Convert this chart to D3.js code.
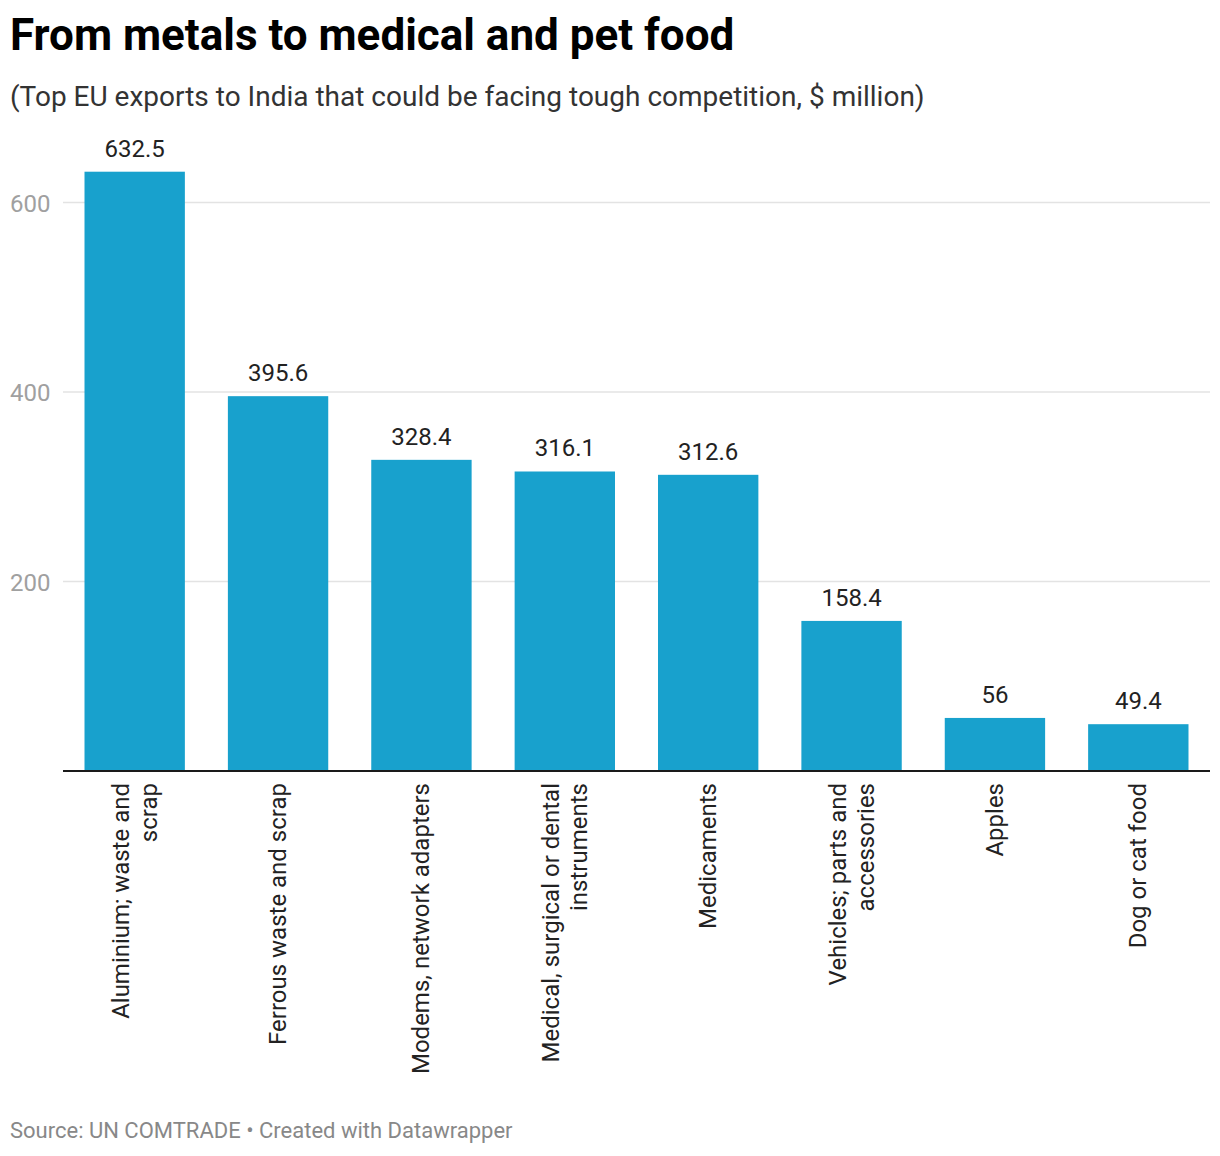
<!DOCTYPE html>
<html>
<head>
<meta charset="utf-8">
<script src="https://cdn.jsdelivr.net/npm/d3@7"></script>
<style>
  body { margin: 0; background: #fff; font-family: Roboto, sans-serif; }
  svg { display: block; }
</style>
</head>
<body>
<div id="chart"></div>
<script>
// labels, "\n" marks where the wrapped lines break
const categories = [
  'Aluminium; waste and\nscrap',
  'Ferrous waste and scrap',
  'Modems, network adapters',
  'Medical, surgical or dental\ninstruments',
  'Medicaments',
  'Vehicles; parts and\naccessories',
  'Apples',
  'Dog or cat food'
]
const values = [632.5, 395.6, 328.4, 316.1, 312.6, 158.4, 56, 49.4]
const yTicks = [200, 400, 600]

const title = 'From metals to medical and pet food'
const subtitle = '(Top EU exports to India that could be facing tough competition, $ million)'
const source = 'Source: UN COMTRADE • Created with Datawrapper'

const width = 1220
const height = 1156
const margin = { left: 63, right: 10, top: 0 }
const baseY = 771

const svg = d3.select('#chart').append('svg')
  .attr('width', width)
  .attr('height', height)

svg.append('text')
  .attr('x', 10).attr('y', 50)
  .attr('font-size', 44).attr('font-weight', 700)
  .attr('fill', '#000')
  .text(title)

svg.append('text')
  .attr('x', 10).attr('y', 106)
  .attr('font-size', 28)
  .attr('fill', '#333')
  .text(subtitle)

const x = d3.scaleBand()
  .domain(categories)
  .range([margin.left, width - margin.right])
  .paddingInner(0.3)
  .paddingOuter(0.15)

const y = d3.scaleLinear()
  .domain([0, 200])
  .range([baseY, baseY - 189.5])

// gridlines + y labels
const grid = svg.append('g')
grid.selectAll('line')
  .data(yTicks)
  .enter().append('line')
  .attr('x1', margin.left)
  .attr('x2', width - margin.right)
  .attr('y1', d => y(d))
  .attr('y2', d => y(d))
  .attr('stroke', '#e3e3e3')
  .attr('stroke-width', 1.5)

grid.selectAll('text')
  .data(yTicks)
  .enter().append('text')
  .attr('x', 10)
  .attr('y', d => y(d) + 9)
  .attr('font-size', 24)
  .attr('fill', '#a0a0a0')
  .text(d => d)

// bars
svg.selectAll('.bar')
  .data(values)
  .enter().append('rect')
  .attr('class', 'bar')
  .attr('x', (d, i) => x(categories[i]))
  .attr('width', x.bandwidth())
  .attr('y', d => y(d))
  .attr('height', d => baseY - y(d))
  .attr('fill', '#18a1cd')

// value labels
svg.selectAll('.val')
  .data(values)
  .enter().append('text')
  .attr('class', 'val')
  .attr('x', (d, i) => x(categories[i]) + x.bandwidth() / 2)
  .attr('y', d => y(d) - 15)
  .attr('text-anchor', 'middle')
  .attr('font-size', 24)
  .attr('fill', '#222')
  .text(d => d)

// baseline
svg.append('line')
  .attr('x1', margin.left)
  .attr('x2', width - margin.right)
  .attr('y1', baseY)
  .attr('y2', baseY)
  .attr('stroke', '#1a1a1a')
  .attr('stroke-width', 2)

// rotated category labels
const lineH = 28
svg.selectAll('.cat')
  .data(categories)
  .enter().append('text')
  .attr('class', 'cat')
  .attr('text-anchor', 'end')
  .attr('font-size', 24)
  .attr('fill', '#222')
  .attr('transform', d => {
    const cx = x(d) + x.bandwidth() / 2
    return `translate(${cx},${baseY + 12}) rotate(-90)`
  })
  .each(function(d) {
    const lines = d.split('\n')
    const off = -(lines.length - 1) * lineH / 2
    d3.select(this).selectAll('tspan')
      .data(lines)
      .enter().append('tspan')
      .attr('x', 0)
      .attr('y', (l, j) => off + j * lineH + 8)
      .text(l => l)
  })

svg.append('text')
  .attr('x', 10).attr('y', 1138)
  .attr('font-size', 22)
  .attr('fill', '#888')
  .text(source)
</script>
</body>
</html>
